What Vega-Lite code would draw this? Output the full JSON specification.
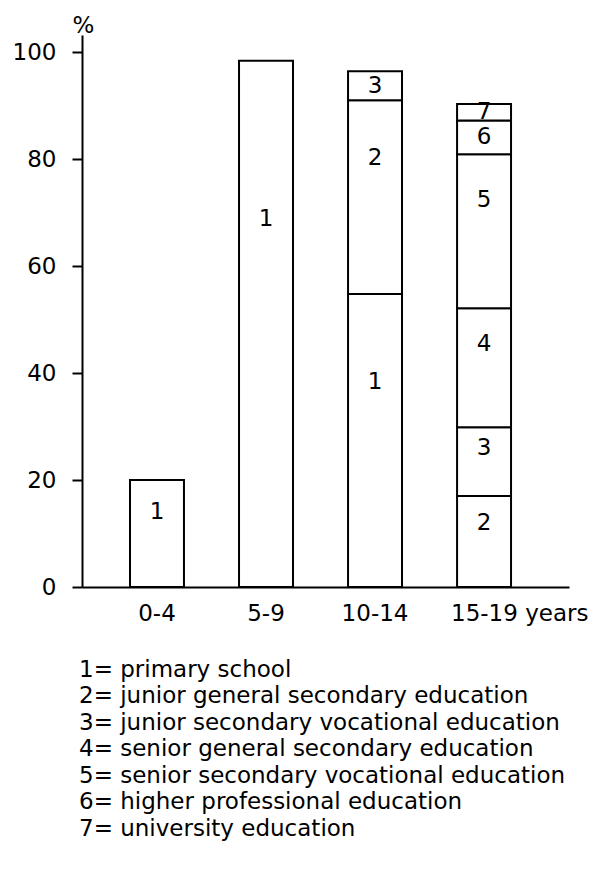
{
  "$schema": "https://vega.github.io/schema/vega-lite/v6.json",
  "width": 487,
  "height": 552,
  "autosize": "none",
  "padding": {"left": 82, "top": 35, "right": 25, "bottom": 287},
  "background": "white",
  "config": {
    "view": {"stroke": null},
    "font": "DejaVu Sans",
    "axis": {"labelFont": "DejaVu Sans", "titleFont": "DejaVu Sans", "labelColor": "black", "titleColor": "black", "domainColor": "black", "tickColor": "black", "grid": false},
    "legend": {"labelFont": "DejaVu Sans"}
  },
  "data": {
    "values": [
      {"age": "0-4", "code": 1, "level": "1= primary school", "value": 20.0},
      {"age": "5-9", "code": 1, "level": "1= primary school", "value": 98.4},
      {"age": "10-14", "code": 1, "level": "1= primary school", "value": 54.8},
      {"age": "10-14", "code": 2, "level": "2= junior general secondary education", "value": 36.2},
      {"age": "10-14", "code": 3, "level": "3= junior secondary vocational education", "value": 5.4},
      {"age": "15-19 years", "code": 2, "level": "2= junior general secondary education", "value": 17.0},
      {"age": "15-19 years", "code": 3, "level": "3= junior secondary vocational education", "value": 12.85},
      {"age": "15-19 years", "code": 4, "level": "4= senior general secondary education", "value": 22.25},
      {"age": "15-19 years", "code": 5, "level": "5= senior secondary vocational education", "value": 28.8},
      {"age": "15-19 years", "code": 6, "level": "6= higher professional education", "value": 6.3},
      {"age": "15-19 years", "code": 7, "level": "7= university education", "value": 3.1}
    ]
  },
  "encoding": {
    "x": {
      "field": "age",
      "type": "nominal",
      "sort": ["0-4", "5-9", "10-14", "15-19 years"],
      "scale": {"paddingInner": 0.505, "paddingOuter": 0.486, "align": 0.453},
      "axis": {
        "title": null,
        "labelAngle": 0,
        "labelFontSize": 23,
        "ticks": false,
        "tickSize": 0,
        "labelPadding": 15,
        "domainWidth": 2,
        "labelAlign": {"condition": {"test": "datum.value == '15-19 years'", "value": "left"}, "value": "center"},
        "labelOffset": {"condition": {"test": "datum.value == '15-19 years'", "value": -33}, "value": 0}
      }
    }
  },
  "layer": [
    {
      "mark": {"type": "bar", "stroke": "black", "strokeWidth": 2, "fillOpacity": 1},
      "encoding": {
        "y": {
          "field": "value",
          "type": "quantitative",
          "stack": "zero",
          "scale": {"domain": [0, 103.2], "nice": false},
          "axis": {
            "title": "%",
            "titleAngle": 0,
            "titleX": 1,
            "titleY": -10,
            "titleAlign": "center",
            "titleBaseline": "middle",
            "titleFontSize": 23,
            "titleFontWeight": "normal",
            "values": [0, 20, 40, 60, 80, 100],
            "labelFontSize": 23,
            "labelPadding": 16,
            "tickSize": 10,
            "tickWidth": 2,
            "domainWidth": 2
          }
        },
        "order": {"field": "code", "type": "quantitative", "sort": "ascending"},
        "color": {
          "field": "level",
          "type": "nominal",
          "scale": {
            "domain": ["1= primary school", "2= junior general secondary education", "3= junior secondary vocational education", "4= senior general secondary education", "5= senior secondary vocational education", "6= higher professional education", "7= university education"],
            "range": ["white", "white", "white", "white", "white", "white", "white"]
          },
          "legend": {
            "title": null,
            "orient": "none",
            "legendX": -26,
            "legendY": 623,
            "direction": "vertical",
            "columns": 1,
            "padding": 0,
            "symbolSize": 0,
            "symbolStrokeWidth": 0,
            "symbolOpacity": 0,
            "labelOffset": 0,
            "labelFontSize": 23,
            "labelColor": "black",
            "labelLimit": 600,
            "rowPadding": 2.5
          }
        }
      }
    },
    {
      "transform": [
        {"stack": "value", "groupby": ["age"], "sort": [{"field": "code", "order": "ascending"}], "as": ["v0", "v1"]},
        {"calculate": "datum.v1 - datum.v0 < 8 ? (datum.v0 + datum.v1) / 2 : datum.v0 + 0.7 * (datum.v1 - datum.v0)", "as": "label_pos"}
      ],
      "mark": {"type": "text", "fontSize": 23, "color": "black", "baseline": "middle", "align": "center"},
      "encoding": {
        "y": {"field": "label_pos", "type": "quantitative"},
        "text": {"field": "code", "type": "nominal"}
      }
    }
  ]
}
